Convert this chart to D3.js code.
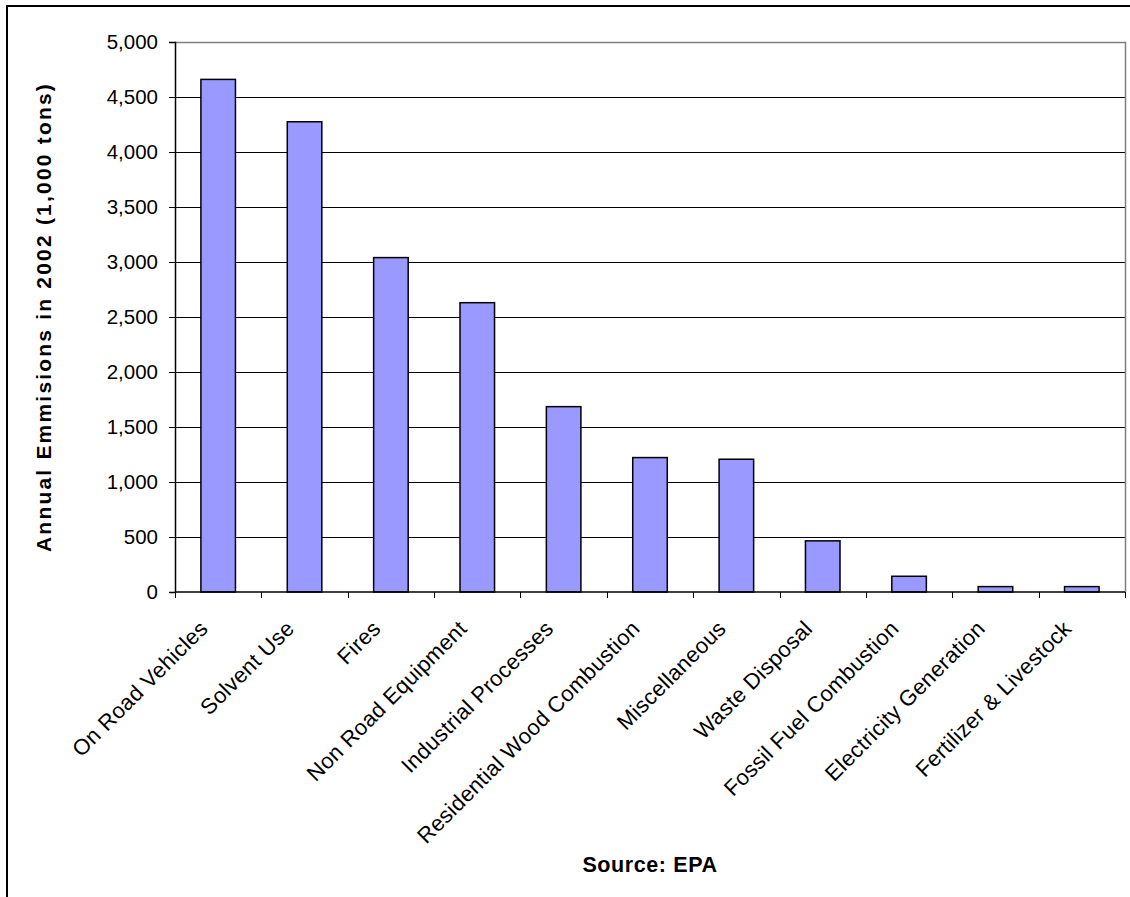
<!DOCTYPE html>
<html>
<head>
<meta charset="utf-8">
<script src="https://cdn.jsdelivr.net/npm/d3@7"></script>
<style>
  body { margin: 0; background: #fff; }
  text { font-family: Arial, 'Liberation Sans', sans-serif; }
</style>
</head>
<body>
<div id="chart"></div>
<script>
// Annual emissions by source, 2002 (1,000 tons)
const categories = [
  'On Road Vehicles',
  'Solvent Use',
  'Fires',
  'Non Road Equipment',
  'Industrial Processes',
  'Residential Wood Combustion',
  'Miscellaneous',
  'Waste Disposal',
  'Fossil Fuel Combustion',
  'Electricity Generation',
  'Fertilizer & Livestock',
];
const emissions = [4660, 4275, 3040, 2630, 1685, 1222, 1207, 465, 143, 49, 49];
const yTicks = [0, 500, 1000, 1500, 2000, 2500, 3000, 3500, 4000, 4500, 5000];
const yTitle = 'Annual Emmisions in 2002 (1,000 tons)';
const xTitle = 'Source: EPA';

const width = 1130;
const height = 897;
const plot = { left: 175, right: 1125, top: 42, bottom: 592 };

const svg = d3
  .select('#chart')
  .append('svg')
  .attr('width', width)
  .attr('height', height);

// outer chart frame (runs off the right and bottom edge)
svg
  .append('rect')
  .attr('x', 7)
  .attr('y', 6)
  .attr('width', 1300)
  .attr('height', 1000)
  .attr('fill', '#fff')
  .attr('stroke', '#000')
  .attr('stroke-width', 2);

const x = d3
  .scaleBand()
  .domain(categories)
  .range([plot.left, plot.right])
  .paddingInner(0.6)
  .paddingOuter(0.3);

const y = d3.scaleLinear().domain([0, 5000]).range([plot.bottom, plot.top]);

// gridlines
svg
  .append('g')
  .selectAll('line')
  .data(yTicks.filter(d => d > 0 && d < 5000))
  .join('line')
  .attr('x1', plot.left)
  .attr('x2', plot.right)
  .attr('y1', d => Math.round(y(d)) + 0.5)
  .attr('y2', d => Math.round(y(d)) + 0.5)
  .attr('stroke', '#000')
  .attr('stroke-width', 1);

// plot area border top / right (grey)
svg
  .append('path')
  .attr(
    'd',
    `M${plot.left},${plot.top + 0.5}H${plot.right + 0.5}V${plot.bottom}`
  )
  .attr('fill', 'none')
  .attr('stroke', '#808080')
  .attr('stroke-width', 1.5);

// bars
svg
  .append('g')
  .selectAll('rect')
  .data(emissions)
  .join('rect')
  .attr('x', (d, i) => x(categories[i]))
  .attr('y', d => y(d))
  .attr('width', x.bandwidth())
  .attr('height', d => y(0) - y(d))
  .attr('fill', '#9999FF')
  .attr('stroke', '#000')
  .attr('stroke-width', 1.5);

// y axis
const yAxis = svg
  .append('g')
  .attr('transform', `translate(${plot.left},0)`)
  .call(
    d3
      .axisLeft(y)
      .tickValues(yTicks)
      .tickSize(6)
      .tickPadding(11)
      .tickFormat(d3.format(','))
  );
yAxis.select('.domain').attr('stroke', '#000').attr('stroke-width', 1.5);
yAxis.selectAll('.tick line').attr('stroke', '#000');
yAxis
  .selectAll('.tick text')
  .attr('font-size', 20.5)
  .attr('font-family', 'Arial, Liberation Sans, sans-serif')
  .attr('fill', '#000');

// x axis: ticks on the category boundaries
const step = x.step();
const boundaries = d3.range(categories.length + 1).map(i => plot.left + i * step);
svg
  .append('line')
  .attr('x1', plot.left)
  .attr('x2', plot.right)
  .attr('y1', plot.bottom)
  .attr('y2', plot.bottom)
  .attr('stroke', '#000')
  .attr('stroke-width', 1.5);
svg
  .append('g')
  .selectAll('line')
  .data(boundaries)
  .join('line')
  .attr('x1', d => Math.round(d) + 0.5)
  .attr('x2', d => Math.round(d) + 0.5)
  .attr('y1', plot.bottom)
  .attr('y2', plot.bottom + 6)
  .attr('stroke', '#000');

// rotated category labels
svg
  .append('g')
  .selectAll('text')
  .data(categories)
  .join('text')
  .attr(
    'transform',
    d => `translate(${x(d) + x.bandwidth() / 2 - 9},${plot.bottom + 38}) rotate(-45)`
  )
  .attr('text-anchor', 'end')
  .attr('font-size', 22)
  .attr('letter-spacing', 0.3)
  .attr('fill', '#000')
  .text(d => d);

// axis titles
svg
  .append('text')
  .attr('transform', `translate(51,${(plot.top + plot.bottom) / 2}) rotate(-90)`)
  .attr('text-anchor', 'middle')
  .attr('font-size', 21)
  .attr('font-weight', 'bold')
  .attr('letter-spacing', 2.2)
  .text(yTitle);

svg
  .append('text')
  .attr('x', (plot.left + plot.right) / 2)
  .attr('y', 872)
  .attr('text-anchor', 'middle')
  .attr('font-size', 21.5)
  .attr('font-weight', 'bold')
  .attr('letter-spacing', 0.6)
  .text(xTitle);
</script>
</body>
</html>
